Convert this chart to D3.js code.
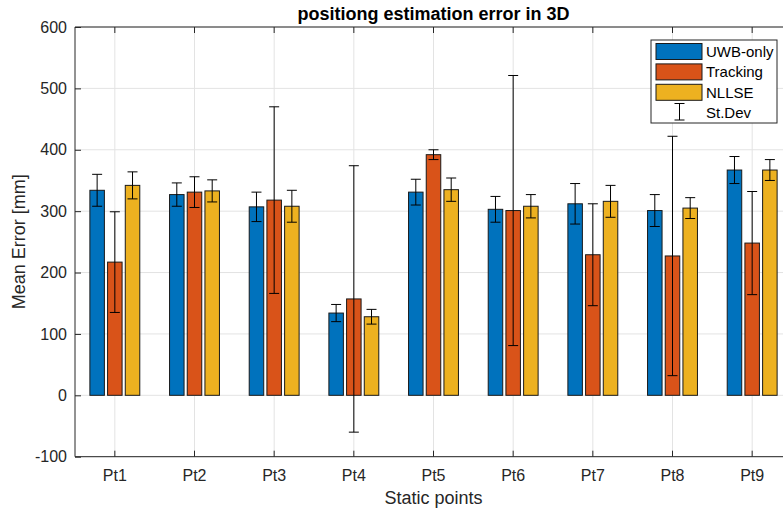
<!DOCTYPE html>
<html>
<head>
<meta charset="utf-8">
<script src="https://cdn.jsdelivr.net/npm/d3@7"></script>
<style>
  html, body { margin: 0; padding: 0; background: #fff; }
  svg { display: block; font-family: "Liberation Sans", Arial, sans-serif; }
</style>
</head>
<body>
<svg id="chart" width="783" height="515"></svg>
<script>
// ---- Data ----
const categories = ["Pt1", "Pt2", "Pt3", "Pt4", "Pt5", "Pt6", "Pt7", "Pt8", "Pt9"];
const seriesNames = ["UWB-only", "Tracking", "NLLSE"];
const uwbMean = [334, 327, 307, 134, 331, 303, 312, 301, 367];
const uwbStd = [26, 19, 24, 14, 21, 21, 33, 26, 22];
const trackingMean = [217, 331, 318, 157, 392, 301, 229, 227, 248];
const trackingStd = [82, 25, 152, 217, 8, 220, 83, 195, 84];
const nllseMean = [342, 333, 308, 128, 335, 308, 316, 305, 367];
const nllseStd = [22, 18, 26, 12, 19, 19, 26, 17, 17];
const yTicks = [-100, 0, 100, 200, 300, 400, 500, 600];
const colors = ["#0072BD", "#D95319", "#EDB120"];

const means = [uwbMean, trackingMean, nllseMean];
const stds = [uwbStd, trackingStd, nllseStd];

// ---- Layout ----
const pLeft = 75, pRight = 792, pTop = 27, pBottom = 456.7;
const svg = d3.select("#chart");

const x0 = d3.scaleBand().domain(categories).range([pLeft, pRight]).paddingInner(0).paddingOuter(0);
const x1 = d3.scaleBand().domain(seriesNames).range([-24.95, 24.95]).paddingInner(0.18).paddingOuter(0);
const y = d3.scaleLinear().domain([-100, 600]).range([pBottom, pTop]);

const cx = c => x0(c) + x0.bandwidth() / 2;

// grid
const grid = svg.append("g");
grid.selectAll("line.gy").data(yTicks).join("line")
  .attr("x1", pLeft).attr("x2", pRight)
  .attr("y1", d => y(d)).attr("y2", d => y(d))
  .attr("stroke", "#e3e3e3").attr("stroke-width", 1);
grid.selectAll("line.gx").data(categories).join("line")
  .attr("x1", d => cx(d)).attr("x2", d => cx(d))
  .attr("y1", pTop).attr("y2", pBottom)
  .attr("stroke", "#e3e3e3").attr("stroke-width", 1);

// bars
const rows = [];
categories.forEach((c, i) => {
  seriesNames.forEach((s, j) => {
    rows.push({ c, s, j, m: means[j][i], sd: stds[j][i] });
  });
});

svg.append("g").selectAll("rect").data(rows).join("rect")
  .attr("x", d => cx(d.c) + x1(d.s))
  .attr("width", x1.bandwidth())
  .attr("y", d => y(Math.max(0, d.m)))
  .attr("height", d => Math.abs(y(d.m) - y(0)))
  .attr("fill", d => colors[d.j])
  .attr("stroke", "#1a1a1a").attr("stroke-width", 1);

// error bars
const cap = 5;
const eb = svg.append("g").attr("stroke", "#000").attr("stroke-width", 1).attr("fill", "none");
const ebx = d => cx(d.c) + x1(d.s) + x1.bandwidth() / 2;
eb.selectAll("line.v").data(rows).join("line")
  .attr("x1", ebx).attr("x2", ebx)
  .attr("y1", d => y(d.m + d.sd)).attr("y2", d => y(d.m - d.sd));
eb.selectAll("line.t").data(rows).join("line")
  .attr("x1", d => ebx(d) - cap).attr("x2", d => ebx(d) + cap)
  .attr("y1", d => y(d.m + d.sd)).attr("y2", d => y(d.m + d.sd));
eb.selectAll("line.b").data(rows).join("line")
  .attr("x1", d => ebx(d) - cap).attr("x2", d => ebx(d) + cap)
  .attr("y1", d => y(d.m - d.sd)).attr("y2", d => y(d.m - d.sd));

// axes frame
const axisColor = "#262626";
const frame = svg.append("g").attr("stroke", axisColor).attr("stroke-width", 1);
frame.append("line").attr("x1", pLeft).attr("x2", pLeft).attr("y1", pTop).attr("y2", pBottom);
frame.append("line").attr("x1", pLeft).attr("x2", pRight).attr("y1", pBottom).attr("y2", pBottom);
frame.append("line").attr("x1", pLeft).attr("x2", pRight).attr("y1", pTop).attr("y2", pTop);
frame.append("line").attr("x1", pRight).attr("x2", pRight).attr("y1", pTop).attr("y2", pBottom);

// y axis ticks (inward)
const yAxis = d3.axisLeft(y).tickValues(yTicks).tickFormat(d => String(d))
  .tickSizeInner(-6).tickSizeOuter(0).tickPadding(8);
const gy = svg.append("g").attr("transform", `translate(${pLeft},0)`).call(yAxis);
gy.select(".domain").remove();
gy.selectAll("line").attr("stroke", axisColor);
gy.selectAll("text").attr("fill", axisColor).attr("font-size", 16)
  .attr("font-family", "Liberation Sans, Arial, sans-serif");

// x axis ticks (inward, bottom and top)
const xAxis = d3.axisBottom(x0).tickSizeInner(-6).tickSizeOuter(0).tickPadding(13);
const gx = svg.append("g").attr("transform", `translate(0,${pBottom})`).call(xAxis);
gx.select(".domain").remove();
gx.selectAll("line").attr("stroke", axisColor);
gx.selectAll("text").attr("fill", axisColor).attr("font-size", 16)
  .attr("font-family", "Liberation Sans, Arial, sans-serif");

const xTop = d3.axisTop(x0).tickSizeInner(-6).tickSizeOuter(0).tickFormat("");
const gxt = svg.append("g").attr("transform", `translate(0,${pTop})`).call(xTop);
gxt.select(".domain").remove();
gxt.selectAll("line").attr("stroke", axisColor);

// labels
svg.append("text").attr("x", (pLeft + pRight) / 2).attr("y", 20)
  .attr("text-anchor", "middle").attr("font-size", 18).attr("font-weight", "bold")
  .attr("fill", "#000").text("positiong estimation error in 3D");
svg.append("text").attr("x", (pLeft + pRight) / 2).attr("y", 504)
  .attr("text-anchor", "middle").attr("font-size", 18)
  .attr("fill", axisColor).text("Static points");
svg.append("text").attr("transform", `translate(25,${(pTop + pBottom) / 2}) rotate(-90)`)
  .attr("text-anchor", "middle").attr("font-size", 18)
  .attr("fill", axisColor).text("Mean Error [mm]");

// legend
const lg = svg.append("g").attr("transform", "translate(651,40)");
lg.append("rect").attr("x", 0).attr("y", 0).attr("width", 126).attr("height", 83)
  .attr("fill", "#fff").attr("stroke", axisColor).attr("stroke-width", 1);
seriesNames.forEach((s, j) => {
  lg.append("rect").attr("x", 5).attr("y", 3.5 + j * 20.4).attr("width", 46).attr("height", 16)
    .attr("fill", colors[j]).attr("stroke", "#1a1a1a").attr("stroke-width", 1);
  lg.append("text").attr("x", 55).attr("y", 17 + j * 20.4).attr("font-size", 15)
    .attr("fill", "#000").text(s);
});
const sy1 = 63.5, sy2 = 80;
lg.append("line").attr("x1", 28.5).attr("x2", 28.5).attr("y1", sy1).attr("y2", sy2).attr("stroke", "#000");
lg.append("line").attr("x1", 23.5).attr("x2", 33.5).attr("y1", sy1).attr("y2", sy1).attr("stroke", "#000");
lg.append("line").attr("x1", 23.5).attr("x2", 33.5).attr("y1", sy2).attr("y2", sy2).attr("stroke", "#000");
lg.append("text").attr("x", 55).attr("y", 78).attr("font-size", 15).attr("fill", "#000").text("St.Dev");
</script>
</body>
</html>
